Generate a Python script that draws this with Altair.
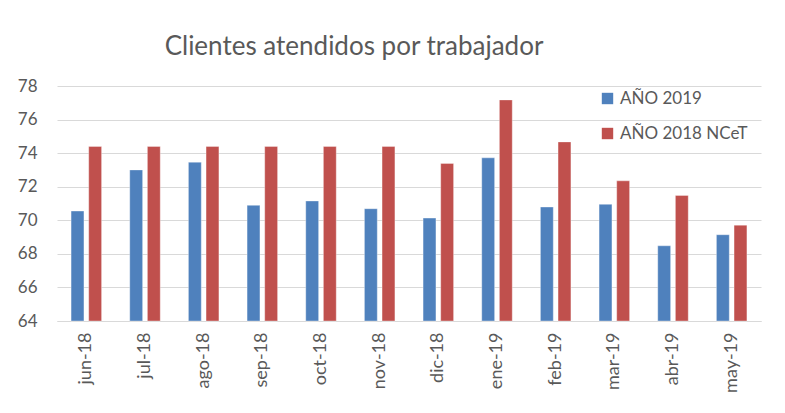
import altair as alt
import pandas as pd

months = ["jun-18", "jul-18", "ago-18", "sep-18", "oct-18", "nov-18",
          "dic-18", "ene-19", "feb-19", "mar-19", "abr-19", "may-19"]
serie_2019 = [70.55, 73.0, 73.46, 70.89, 71.15, 70.69, 70.13, 73.72, 70.79, 70.95, 68.48, 69.14]
serie_2018 = [74.4, 74.4, 74.4, 74.4, 74.4, 74.4, 73.39, 77.17, 74.67, 72.35, 71.48, 69.71]
series_names = ["AÑO 2019", "AÑO 2018 NCeT"]
colors = ["#4F81BD", "#C0504D"]
y_min, y_max = 64, 78

rows = []
for m, a, b in zip(months, serie_2019, serie_2018):
    rows.append({"mes": m, "serie": series_names[0], "valor": a})
    rows.append({"mes": m, "serie": series_names[1], "valor": b})
df = pd.DataFrame(rows)

FONT = "Lato"
GREY = "#595959"

chart = alt.Chart(df).mark_bar(stroke="#ffffff", strokeOpacity=0.35, strokeWidth=1).encode(
    x=alt.X("mes:N", sort=months,
            scale=alt.Scale(paddingInner=0.48, paddingOuter=0.24),
            axis=alt.Axis(title=None, labelAngle=-90, labelFontSize=18, labelFont=FONT,
                          labelColor=GREY, labelPadding=11, ticks=False,
                          domainColor="#D9D9D9", domainWidth=1)),
    xOffset=alt.XOffset("serie:N", sort=series_names,
                        scale=alt.Scale(paddingInner=0.27, paddingOuter=0)),
    y=alt.Y("valor:Q", scale=alt.Scale(domain=[y_min, y_max], nice=False, zero=False),
            axis=alt.Axis(title=None, values=[64, 66, 68, 70, 72, 74, 76, 78],
                          labelFontSize=17, labelFont=FONT, labelColor=GREY,
                          labelPadding=20, ticks=False, domain=False,
                          gridColor="#D9D9D9", gridWidth=1)),
    y2=alt.datum(y_min),
    color=alt.Color("serie:N", sort=series_names,
                    scale=alt.Scale(domain=series_names, range=colors),
                    legend=alt.Legend(title=None, orient="none", legendX=542, legendY=4,
                                      symbolType="square", symbolSize=130,
                                      labelFontSize=17, labelFont=FONT, labelColor=GREY,
                                      rowPadding=17, symbolStrokeWidth=0)),
).properties(
    width=704,
    height=235,
    title=alt.TitleParams("Clientes atendidos por trabajador", fontSize=26, font=FONT,
                          color=GREY, fontWeight="normal", anchor="middle", dx=-55,
                          offset=17),
    autosize=alt.AutoSizeParams(type="none"),
    padding={"left": 49, "top": 78, "right": 16, "bottom": 90},
).configure_view(stroke=None)

chart.save("out.html", embed_options={"renderer": "svg", "actions": False})
